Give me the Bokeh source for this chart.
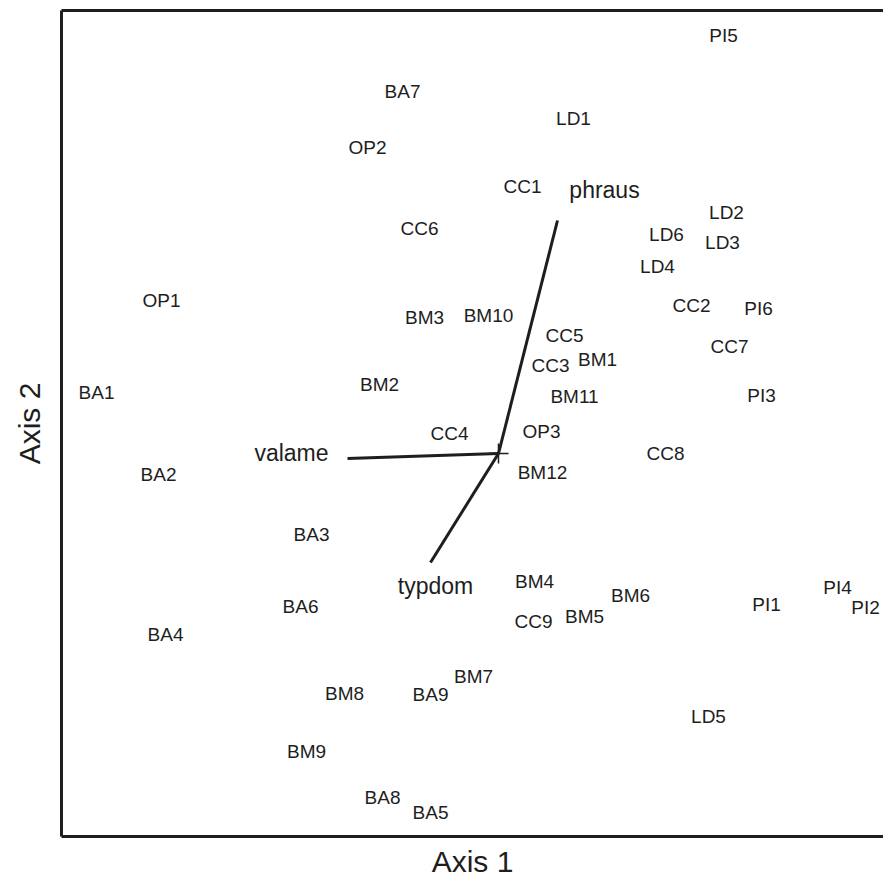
from bokeh.plotting import figure
from bokeh.models import ColumnDataSource, Range1d, FixedTicker, LinearAxis
from bokeh.core.properties import value
from bokeh.embed import file_html
from bokeh.resources import INLINE

# Sample scores (Axis 1, Axis 2)
site_labels = ["PI5", "BA7", "LD1", "OP2", "CC1", "LD2", "CC6", "LD6", "LD3", "LD4",
               "OP1", "CC2", "PI6", "BM3", "BM10", "CC5", "BM1", "CC3", "CC7", "BM2",
               "BA1", "BM11", "PI3", "CC4", "OP3", "CC8", "BM12", "BA2", "BA3", "BM4",
               "BM6", "PI4", "PI1", "PI2", "BA6", "BM5", "CC9", "BA4", "BM7", "BM8",
               "BA9", "LD5", "BM9", "BA8", "BA5"]
axis1_scores = [1.125, -0.480, 0.375, -0.655, 0.120, 1.140, -0.395, 0.840, 1.120, 0.795,
                -1.685, 0.965, 1.300, -0.370, -0.050, 0.330, 0.495, 0.260, 1.155, -0.595,
                -2.010, 0.380, 1.315, -0.245, 0.215, 0.835, 0.220, -1.700, -0.935, 0.180,
                0.660, 1.695, 1.340, 1.835, -0.990, 0.430, 0.175, -1.665, -0.125, -0.770,
                -0.340, 1.050, -0.960, -0.580, -0.340]
axis2_scores = [2.090, 1.810, 1.675, 1.530, 1.335, 1.205, 1.125, 1.095, 1.055, 0.935,
                0.765, 0.740, 0.725, 0.680, 0.690, 0.590, 0.470, 0.440, 0.535, 0.345,
                0.305, 0.285, 0.290, 0.100, 0.110, 0.000, -0.095, -0.105, -0.405, -0.640,
                -0.710, -0.670, -0.755, -0.770, -0.765, -0.815, -0.840, -0.905, -1.115, -1.200,
                -1.205, -1.315, -1.490, -1.720, -1.795]

# Environmental vectors (biplot arrows)
vector_names = ["phraus", "valame", "typdom"]
vector_axis1 = [0.295, -0.755, -0.340]
vector_axis2 = [1.165, -0.025, -0.545]
vector_label_axis1 = [0.530, -1.035, -0.315]
vector_label_axis2 = [1.320, 0.005, -0.660]

FONT = "Liberation Sans"
INK = "#1e1e1e"

p = figure(frame_width=822, frame_height=826,
           min_border_left=61, min_border_right=0, min_border_top=10, min_border_bottom=50,
           x_range=Range1d(-2.185, 1.925), y_range=Range1d(-1.915, 2.215),
           output_backend="svg", toolbar_location=None, tools="",
           x_axis_location=None, y_axis_location=None)
p.outline_line_color = None
p.grid.visible = False
p.background_fill_color = "white"
p.border_fill_color = "white"

bottom_axis = LinearAxis(axis_label="Axis 1")
left_axis = LinearAxis(axis_label="Axis 2")
top_axis = LinearAxis()
p.add_layout(bottom_axis, "below")
p.add_layout(left_axis, "left")
p.add_layout(top_axis, "above")

for ax in [bottom_axis, left_axis, top_axis]:
    ax.ticker = FixedTicker(ticks=[])
    ax.major_tick_line_color = None
    ax.minor_tick_line_color = None
    ax.major_tick_out = 0
    ax.major_tick_in = 0
    ax.minor_tick_out = 0
    ax.minor_tick_in = 0
    ax.major_label_standoff = 0
    ax.major_label_text_font_size = "0px"
    ax.axis_line_color = INK
    ax.axis_line_width = 3

for ax in [bottom_axis, left_axis]:
    ax.axis_label_text_font = FONT
    ax.axis_label_text_font_size = "30px"
    ax.axis_label_text_font_style = "normal"
    ax.axis_label_text_color = INK
bottom_axis.axis_label_standoff = 8
left_axis.axis_label_standoff = 16

sites = ColumnDataSource(dict(x=axis1_scores, y=axis2_scores, t=site_labels))
p.text(x="x", y="y", text="t", source=sites, text_font=value(FONT),
       text_font_size="19px", text_align="center", text_baseline="middle",
       text_color=INK)

vec = ColumnDataSource(dict(x0=[0.0] * len(vector_names), y0=[0.0] * len(vector_names),
                            x1=vector_axis1, y1=vector_axis2,
                            lx=vector_label_axis1, ly=vector_label_axis2, t=vector_names))
p.segment(x0="x0", y0="y0", x1="x1", y1="y1", source=vec, line_color=INK, line_width=3)
p.scatter(x=[0.0], y=[0.0], marker="cross", size=20, line_color=INK, line_width=1.5)
p.text(x="lx", y="ly", text="t", source=vec, text_font=value(FONT),
       text_font_size="23px", text_align="center", text_baseline="middle",
       text_color=INK)

open("out.html", "w").write(file_html(p, INLINE))
